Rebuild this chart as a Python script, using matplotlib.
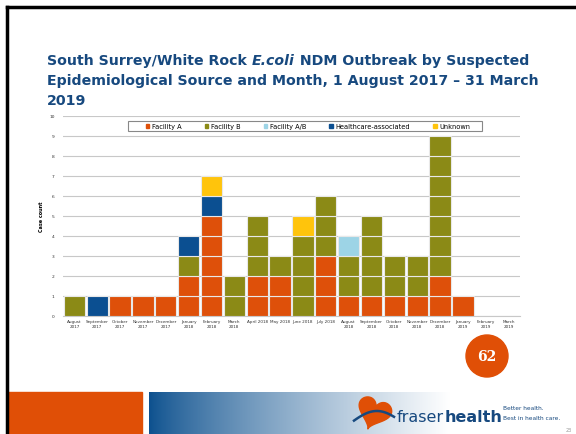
"""
Slide recreation: E.coli NDM outbreak cases by suspected source and month
"""
import numpy as np
import matplotlib.pyplot as plt
from matplotlib.patches import Rectangle, Circle, Patch, Polygon

# Data
months = ['August\n2017', 'September\n2017', 'October\n2017', 'November\n2017',
          'December\n2017', 'January\n2018', 'February\n2018', 'March\n2018',
          'April 2018', 'May 2018', 'June 2018', 'July 2018', 'August\n2018',
          'September\n2018', 'October\n2018', 'November\n2018', 'December\n2018',
          'January\n2019', 'February\n2019', 'March\n2019']
facility_a = [0, 0, 1, 1, 1, 2, 5, 0, 2, 2, 0, 3, 1, 1, 1, 1, 2, 1, 0, 0]
facility_b = [1, 0, 0, 0, 0, 1, 0, 2, 3, 1, 4, 3, 2, 4, 2, 2, 7, 0, 0, 0]
facility_ab = [0, 0, 0, 0, 0, 0, 0, 0, 0, 0, 0, 0, 1, 0, 0, 0, 0, 0, 0, 0]
healthcare = [0, 1, 0, 0, 0, 1, 1, 0, 0, 0, 0, 0, 0, 0, 0, 0, 0, 0, 0, 0]
unknown = [0, 0, 0, 0, 0, 0, 1, 0, 0, 0, 1, 0, 0, 0, 0, 0, 0, 0, 0, 0]

series = [
    ('Facility A', facility_a, '#DE500A'),
    ('Facility B', facility_b, '#8B8A16'),
    ('Facility A/B', facility_ab, '#9DD4E6'),
    ('Healthcare-associated', healthcare, '#0B4F91'),
    ('Unknown', unknown, '#FFC40C'),
]

W, H = 576, 435
NAVY = '#17497F'
NARROW = 'DejaVu Sans Condensed'
fig = plt.figure(figsize=(W / 100, H / 100), dpi=100)
fig.patch.set_facecolor('white')

# Overlay in pixel coordinates for slide decoration
deco = fig.add_axes([0, 0, 1, 1])
deco.axis('off')
deco.set_xlim(0, W)
deco.set_ylim(H, 0)

# Slide frame (left and top black edges)
deco.plot([7, 7], [H, 8], color='black', linewidth=2.5)
deco.plot([7, W], [8, 8], color='black', linewidth=2.5)

# Title, first line in pieces so E.coli can be bold italic
tkw = dict(color=NAVY, fontsize=10.2, fontweight='bold')
t1 = deco.text(47, 65, 'South Surrey/White Rock ', ha='left', va='baseline', **tkw)
t2 = deco.annotate('E.coli', xy=(1, 0), xycoords=t1, ha='left', va='bottom',
                   style='italic', **tkw)
deco.annotate(' NDM Outbreak by Suspected', xy=(1, 0), xycoords=t2, ha='left',
              va='bottom', **tkw)
deco.text(47, 85, 'Epidemiological Source and Month, 1 August 2017 \u2013 31 March',
          ha='left', va='baseline', **tkw)
deco.text(47, 105, '2019', ha='left', va='baseline', **tkw)

# Bottom bar: orange block and blue gradient
deco.add_patch(Rectangle((8, 393), 134, 42, color='#E04F06', zorder=1))
grad = np.linspace(0, 1, 256)
colors = np.zeros((1, 256, 3))
start = np.array([12, 80, 142]) / 255
for i in range(3):
    colors[0, :, i] = start[i] + (1 - start[i]) * np.clip(grad * 1.1, 0, 1) ** 0.8
deco.imshow(colors, extent=[149, 480, 435, 393], aspect='auto', zorder=1)
deco.set_xlim(0, W)
deco.set_ylim(H, 0)

# Logo: heart shape with a swoosh
t = np.linspace(0, 2 * np.pi, 80)
hx = 16 * np.sin(t) ** 3
hy = 13 * np.cos(t) - 5 * np.cos(2 * t) - 2 * np.cos(3 * t) - np.cos(4 * t)
ang = np.deg2rad(-20)
rx = hx * np.cos(ang) - hy * np.sin(ang)
ry = hx * np.sin(ang) + hy * np.cos(ang)
deco.add_patch(Polygon(np.column_stack([374 + rx * 1.05, 413 - ry * 1.05]),
                       color='#E04F06', zorder=3))
deco.plot(np.linspace(354, 394, 30), 424 - 12 * np.sin(np.linspace(0.2, 2.6, 30)),
          color=NAVY, linewidth=1.8, zorder=4)
t_f = deco.text(397, 422, 'fraser', color=NAVY, fontsize=11.5, ha='left',
                va='baseline', zorder=3, family=NARROW)
deco.annotate('health', xy=(1, 0), xycoords=t_f, color=NAVY, fontsize=11.5,
              fontweight='bold', ha='left', va='bottom', zorder=3, family=NARROW)
deco.text(503, 409, 'Better health.', color=NAVY, fontsize=4.2, ha='left',
          va='center', family=NARROW)
deco.text(503, 419, 'Best in health care.', color=NAVY, fontsize=4.2, ha='left',
          va='center', family=NARROW)
deco.text(572, 431, '23', color='#999999', fontsize=3.5, ha='right', va='center')

# Page number badge
deco.add_patch(Circle((487, 357), 21, color='#E04F06', zorder=3))
deco.text(487, 357, '62', color='white', fontsize=10, fontweight='bold',
          family='DejaVu Serif', ha='center', va='center', zorder=4)

# Chart
ax = fig.add_axes([63 / W, 1 - 317 / H, (520 - 63) / W, 200 / H])
x = np.arange(len(months))
bottom = np.zeros(len(months))
for name, values, color in series:
    vals = np.array(values)
    # draw each case as its own box
    for k in range(vals.max()):
        mask = vals > k
        ax.bar(x[mask], 1, bottom=bottom[mask] + k, width=0.93, color=color,
               edgecolor='#E8E8E8', linewidth=0.8, zorder=3)
    bottom += vals

ax.set_xlim(-0.5, len(months) - 0.5)
ax.set_ylim(0, 10)
ax.set_yticks(range(0, 11))
ax.tick_params(axis='y', labelsize=3.2, length=0, pad=6, colors='#333333')
ax.set_xticks(x)
ax.set_xticklabels(months, fontsize=3, linespacing=1.4)
ax.tick_params(axis='x', length=0, pad=2, colors='#333333')
ax.set_ylabel('Case count', fontsize=3.5, fontweight='bold', labelpad=4)
ax.grid(axis='y', color='#C8C8C8', linewidth=0.8, zorder=0)
for side in ['top', 'right', 'left']:
    ax.spines[side].set_visible(False)
ax.spines['bottom'].set_color('#C8C8C8')

# Legend box drawn separately, entries centred inside it
ax.add_patch(Rectangle(((128 - 63) / 457, (317 - 132) / 200), 354 / 457, 10 / 200,
                       transform=ax.transAxes, facecolor='white',
                       edgecolor='#888888', linewidth=0.8, zorder=4))
handles = [Patch(color=c, label=n) for n, _, c in series]
leg = ax.legend(handles=handles, ncol=5, fontsize=4.8, loc='center',
                bbox_to_anchor=((308 - 63) / 457, (317 - 127) / 200),
                frameon=False, borderaxespad=0, borderpad=0,
                handlelength=0.5, handleheight=0.5, handletextpad=0.4,
                columnspacing=3.5)
leg.set_zorder(5)

plt.savefig('out.png', dpi=100)
plt.close()
